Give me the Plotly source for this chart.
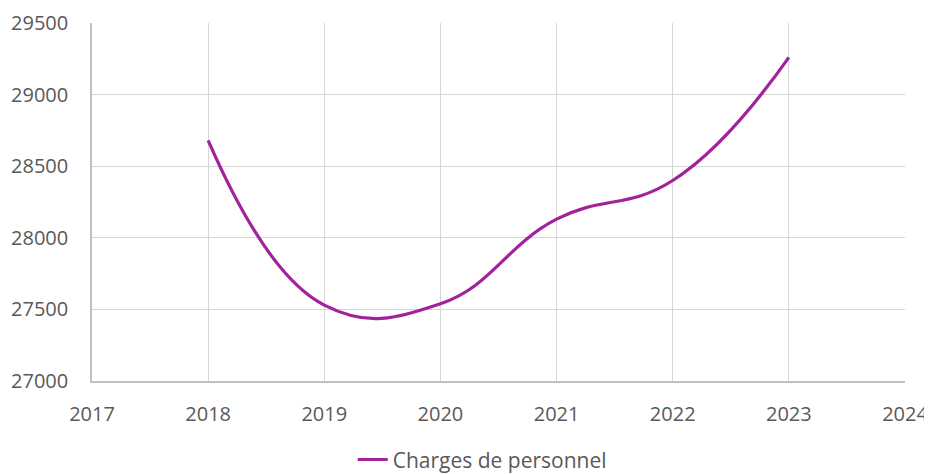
import plotly.graph_objects as go

years = [2018, 2019, 2020, 2021, 2022, 2023]
charges = [28680, 27530, 27540, 28130, 28400, 29260]
series_name = "Charges de personnel"
x_ticks = [2017, 2018, 2019, 2020, 2021, 2022, 2023, 2024]
y_ticks = [27000, 27500, 28000, 28500, 29000, 29500]

fig = go.Figure()
fig.add_trace(go.Scatter(
    x=years, y=charges, name=series_name, mode="lines",
    line=dict(color="#A2229B", width=3.2, shape="spline", smoothing=1.25),
))

font_fam = "Open Sans, Liberation Sans, sans-serif"
fig.update_layout(
    width=924, height=466,
    margin=dict(l=84, r=27, t=15, b=93, autoexpand=False),
    paper_bgcolor="white", plot_bgcolor="white",
    font=dict(family=font_fam, size=20, color="#595959"),
    showlegend=True,
    legend=dict(orientation="h", x=0.48, xanchor="center", y=-0.163, yanchor="top",
                font=dict(size=21, color="#595959")),
    xaxis=dict(range=[2017, 2024], tickvals=x_ticks, ticktext=[str(t) for t in x_ticks],
               automargin=False,
               showgrid=True, gridcolor="#d6d6d6", gridwidth=1.3,
               showline=True, linecolor="#bfbfbf", linewidth=1.5,
               zeroline=False, ticks="outside", ticklen=14, tickcolor="rgba(0,0,0,0)"),
    yaxis=dict(range=[27000, 29500], tickvals=y_ticks, tickformat="d",
               automargin=False,
               showgrid=True, gridcolor="#d6d6d6", gridwidth=1.3,
               showline=True, linecolor="#bfbfbf", linewidth=1.5,
               zeroline=False, ticks="outside", ticklen=18, tickcolor="rgba(0,0,0,0)"),
)

fig.write_html("out.html")
